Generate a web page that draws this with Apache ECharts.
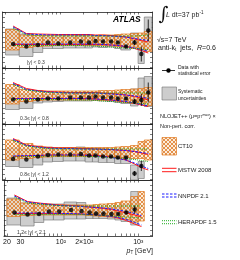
<!DOCTYPE html>
<html><head><meta charset="utf-8">
<script src="https://cdn.jsdelivr.net/npm/echarts@6/dist/echarts.min.js"></script>
<style>html,body{margin:0;padding:0;background:#fff}#c{width:240px;height:260px}</style>
</head><body><div id="c"></div>
<script>
// ---------- DATA ----------
const binEdges = [20,30,45,60,80,110,160,210,260,310,400,500,600,800,1000,1200,1500];
const ptCenters = [25,37,52,70,95,135,185,235,285,355,450,550,700,900,1100,1350];
const xTickValues = [20,30,100,200,1000];
const xTickLabels = ['20','30','10²','2×10²','10³'];
const xMinorTicks = [20,30,40,50,60,70,80,90,100,200,300,400,500,600,700,800,900,1000];
const panelLabels = ['|y| < 0.3','0.3≤ |y| < 0.8','0.8≤ |y| < 1.2','1.2≤ |y| < 2.1'];

// |y| < 0.3
const data1 = [0.96,0.91,0.94,0.99,0.97,0.99,1.01,0.99,1.02,1.01,1.01,0.99,0.91,0.99,0.76,1.23];
const stat1 = [0,0,0,0,0,0,0,0,0.01,0.01,0.01,0.02,0.03,0.05,0.15,0.22];
const sysLo1 = [0.74,0.71,0.79,0.87,0.87,0.88,0.88,0.88,0.90,0.89,0.90,0.87,0.84,0.91,0.57,0.84];
const sysHi1 = [1.26,1.16,1.10,1.09,1.09,1.10,1.12,1.10,1.12,1.12,1.12,1.12,1.11,1.18,1.04,1.50];
const ct10Lo1 = [0.84,0.89,0.91,0.92,0.93,0.93,0.93,0.93,0.93,0.93,0.92,0.91,0.90,0.88,0.85,0.81];
const ct10Hi1 = [1.25,1.14,1.13,1.13,1.13,1.13,1.13,1.13,1.13,1.14,1.14,1.15,1.16,1.17,1.18,1.21];
const mstwLo1 = [0.95,0.95,0.95,0.95,0.95,0.95,0.95,0.95,0.95,0.95,0.94,0.93,0.91,0.87,0.83,0.78];
const mstwHi1 = [1.32,1.17,1.16,1.155,1.15,1.15,1.15,1.15,1.14,1.14,1.13,1.12,1.10,1.06,1.03,1.00];
const nnLo1 = [0.96,0.96,0.96,0.96,0.96,0.96,0.96,0.96,0.96,0.95,0.94,0.93,0.91,0.88,0.85,0.81];
const nnHi1 = [1.30,1.16,1.15,1.14,1.14,1.14,1.14,1.14,1.13,1.13,1.12,1.11,1.10,1.07,1.05,1.03];
const heLo1 = [0.93,0.93,0.93,0.93,0.93,0.93,0.93,0.92,0.92,0.91,0.90,0.89,0.88,0.87,0.86,0.85];
const heHi1 = [1.28,1.14,1.13,1.12,1.12,1.12,1.12,1.12,1.12,1.12,1.12,1.12,1.12,1.12,1.13,1.14];

// 0.3 <= |y| < 0.8
const data2 = [0.97,0.93,0.97,0.99,0.99,1.01,1.01,1.01,1.03,1.01,1.01,0.99,0.99,0.93,0.96,1.11];
const stat2 = [0,0,0,0,0,0,0,0,0.01,0.01,0.01,0.02,0.03,0.05,0.12,0.20];
const sysLo2 = [0.77,0.79,0.90,0.92,0.93,0.94,0.94,0.94,0.95,0.94,0.93,0.91,0.89,0.84,0.90,0.83];
const sysHi2 = [1.18,1.08,1.06,1.07,1.07,1.08,1.09,1.10,1.10,1.10,1.10,1.10,1.12,1.18,1.40,1.43];
const ct10Lo2 = [0.88,0.93,0.95,0.96,0.96,0.96,0.96,0.96,0.96,0.95,0.95,0.94,0.92,0.90,0.88,0.85];
const ct10Hi2 = [1.27,1.17,1.15,1.14,1.14,1.14,1.14,1.14,1.14,1.15,1.15,1.16,1.17,1.18,1.19,1.21];
const mstwLo2 = [0.99,0.99,0.99,0.99,0.99,0.99,0.99,0.99,0.98,0.97,0.96,0.94,0.92,0.89,0.86,0.83];
const mstwHi2 = [1.31,1.19,1.15,1.13,1.12,1.11,1.11,1.11,1.11,1.10,1.09,1.08,1.06,1.03,1.00,0.96];
const nnLo2 = [0.99,0.99,0.99,0.99,0.99,0.99,0.99,0.98,0.98,0.97,0.96,0.95,0.93,0.90,0.87,0.84];
const nnHi2 = [1.29,1.17,1.14,1.12,1.11,1.10,1.10,1.10,1.10,1.09,1.08,1.07,1.06,1.04,1.02,0.99];
const heLo2 = [0.97,0.97,0.97,0.97,0.97,0.96,0.96,0.96,0.95,0.94,0.93,0.92,0.91,0.90,0.89,0.88];
const heHi2 = [1.27,1.16,1.13,1.11,1.10,1.10,1.10,1.10,1.10,1.10,1.10,1.10,1.10,1.10,1.10,1.10];

// 0.8 <= |y| < 1.2
const data3 = [0.90,0.89,0.95,0.98,0.99,0.99,1.00,0.97,0.97,0.95,0.95,0.93,0.93,0.61,0.76];
const stat3 = [0,0,0,0,0,0,0,0,0.01,0.01,0.01,0.02,0.03,0.05,0.10];
const sysLo3 = [0.75,0.73,0.78,0.84,0.85,0.86,0.86,0.84,0.84,0.83,0.83,0.81,0.81,0.48,0.51];
const sysHi3 = [1.12,1.10,1.10,1.12,1.13,1.13,1.14,1.10,1.10,1.08,1.08,1.07,1.08,0.78,0.85];
const ct10Lo3 = [0.88,0.91,0.93,0.94,0.95,0.95,0.95,0.95,0.95,0.95,0.94,0.94,0.93,0.91,0.91,0.88];
const ct10Hi3 = [1.28,1.21,1.16,1.14,1.13,1.13,1.13,1.13,1.13,1.13,1.13,1.14,1.15,1.17,1.25,1.28];
const mstwLo3 = [0.95,0.96,0.97,0.98,0.98,0.98,0.98,0.98,0.97,0.96,0.94,0.92,0.88,0.80,0.73,0.68];
const mstwHi3 = [1.31,1.18,1.15,1.13,1.12,1.12,1.11,1.11,1.10,1.10,1.09,1.08,1.07,1.05,1.02,0.99];
const nnLo3 = [0.96,0.97,0.97,0.98,0.98,0.98,0.98,0.97,0.96,0.95,0.93,0.91,0.88,0.82,0.76,0.71];
const nnHi3 = [1.29,1.17,1.14,1.12,1.11,1.11,1.10,1.10,1.10,1.09,1.09,1.08,1.07,1.05,1.03,1.01];
const heLo3 = [0.94,0.95,0.95,0.96,0.96,0.96,0.96,0.95,0.95,0.94,0.93,0.92,0.91,0.89,0.87,0.85];
const heHi3 = [1.27,1.16,1.13,1.11,1.10,1.10,1.10,1.10,1.10,1.10,1.10,1.10,1.10,1.10,1.10,1.10];

// 1.2 <= |y| < 2.1
const data4 = [0.95,0.91,0.92,0.97,0.97,1.00,0.98,0.95,0.93,0.93,0.92,0.92,0.95,1.01];
const stat4 = [0,0,0,0,0,0,0,0,0.01,0.01,0.01,0.02,0.03,0.08];
const sysLo4 = [0.70,0.68,0.75,0.80,0.80,0.82,0.82,0.83,0.83,0.83,0.82,0.80,0.77,0.70];
const sysHi4 = [1.24,1.14,1.10,1.12,1.12,1.16,1.15,1.08,1.06,1.06,1.05,1.06,1.12,1.37];
const ct10Lo4 = [0.87,0.89,0.90,0.90,0.90,0.90,0.90,0.89,0.88,0.87,0.86,0.84,0.81,0.76,0.78];
const ct10Hi4 = [1.22,1.14,1.12,1.11,1.10,1.10,1.10,1.10,1.11,1.12,1.13,1.15,1.18,1.27,1.37];
const mstwLo4 = [0.93,0.93,0.93,0.93,0.93,0.92,0.92,0.91,0.90,0.89,0.87,0.84,0.79,0.72,0.67];
const mstwHi4 = [1.30,1.17,1.14,1.12,1.10,1.09,1.08,1.06,1.05,1.03,1.01,0.98,0.94,0.90,0.86];
const nnLo4 = [0.94,0.94,0.94,0.94,0.93,0.93,0.92,0.91,0.90,0.89,0.87,0.85,0.81,0.75,0.70];
const nnHi4 = [1.28,1.16,1.13,1.11,1.09,1.08,1.07,1.06,1.05,1.04,1.02,1.00,0.97,0.93,0.89];
const heLo4 = [0.91,0.91,0.91,0.91,0.91,0.91,0.91,0.90,0.90,0.89,0.88,0.87,0.86,0.85,0.84];
const heHi4 = [1.26,1.14,1.12,1.10,1.09,1.08,1.08,1.08,1.08,1.08,1.08,1.08,1.08,1.08,1.08];

const panels = [
  {data:data1, stat:stat1, sysLo:sysLo1, sysHi:sysHi1, ctLo:ct10Lo1, ctHi:ct10Hi1, msLo:mstwLo1, msHi:mstwHi1, nnLo:nnLo1, nnHi:nnHi1, heLo:heLo1, heHi:heHi1},
  {data:data2, stat:stat2, sysLo:sysLo2, sysHi:sysHi2, ctLo:ct10Lo2, ctHi:ct10Hi2, msLo:mstwLo2, msHi:mstwHi2, nnLo:nnLo2, nnHi:nnHi2, heLo:heLo2, heHi:heHi2},
  {data:data3, stat:stat3, sysLo:sysLo3, sysHi:sysHi3, ctLo:ct10Lo3, ctHi:ct10Hi3, msLo:mstwLo3, msHi:mstwHi3, nnLo:nnLo3, nnHi:nnHi3, heLo:heLo3, heHi:heHi3},
  {data:data4, stat:stat4, sysLo:sysLo4, sysHi:sysHi4, ctLo:ct10Lo4, ctHi:ct10Hi4, msLo:mstwLo4, msHi:mstwHi4, nnLo:nnLo4, nnHi:nnHi4, heLo:heLo4, heHi:heHi4}
];
const yTicks = [0.5,0.6,0.7,0.8,0.9,1.0,1.1,1.2,1.3,1.4,1.5,1.6];

// ---------- STYLE / LAYOUT ----------
const F = 'Liberation Sans';
const xMin = 18.3, xMax = 1530, yMin = 0.48, yMax = 1.6;
const gridLeft = 2.5, gridW = 150, gridTop0 = 12, gridH = 56;
const RED = '#ff1a1a', BLUE = '#1a1aff', GREEN = '#1faa1f', ORANGE = '#e0781e';

const pc = document.createElement('canvas'); pc.width = 4; pc.height = 4;
const pctx = pc.getContext('2d');
pctx.fillStyle = 'rgba(250,222,190,0.55)'; pctx.fillRect(0,0,4,4);
pctx.fillStyle = 'rgba(222,122,40,0.8)';
[[0,0],[1,1],[2,2],[3,3],[3,0],[2,1],[1,2],[0,3]].forEach(p => pctx.fillRect(p[0], p[1], 1, 1));
const hatch = {image: pc, repeat: 'repeat'};

function labelFor(v){
  const k = xTickValues.findIndex(t => Math.abs(t - v) / t < 1e-6);
  return k >= 0 ? xTickLabels[k] : '';
}

const grids = [], xAxes = [], yAxes = [], series = [];
const axLine = {show:true, onZero:false, lineStyle:{color:'#222', width:0.8}};
panels.forEach((P, gi) => {
  grids.push({left:gridLeft, top:gridTop0 + gi*gridH, width:gridW, height:gridH, containLabel:false});
  ['bottom','top'].forEach(pos => {
    xAxes.push({gridIndex:gi, type:'log', logBase:10, min:xMin, max:xMax, position:pos,
      axisLine:axLine,
      axisTick:{show:true, inside:true, length:2.5, customValues:xMinorTicks, lineStyle:{color:'#222', width:0.6}},
      axisLabel:{show: gi === 3 && pos === 'bottom', customValues:xTickValues, formatter:labelFor,
        fontSize:7, color:'#111', margin:3, fontFamily:F},
      splitLine:{show:false}});
  });
  ['left','right'].forEach(pos => {
    yAxes.push({gridIndex:gi, type:'value', min:yMin, max:yMax, position:pos,
      axisLine:axLine,
      axisTick:{show:true, inside:true, length:2.5, customValues:yTicks, lineStyle:{color:'#222', width:0.6}},
      axisLabel:{show:false}, splitLine:{show:false}});
  });
  const xi = gi*2, yi = gi*2;
  const boxes = (lo, hi, style, z) => ({
    type:'custom', xAxisIndex:xi, yAxisIndex:yi, z, silent:true, clip:true,
    data: lo.map((l, i) => [binEdges[i], binEdges[i+1], l, hi[i]]),
    encode:{x:[0,1], y:[2,3]},
    renderItem:(params, api) => {
      const a = api.coord([api.value(0), api.value(3)]);
      const b = api.coord([api.value(1), api.value(2)]);
      return {type:'rect', shape:{x:a[0], y:a[1], width:b[0]-a[0], height:b[1]-a[1]}, style};
    }
  });
  series.push(boxes(P.sysLo, P.sysHi, {fill:'#cdcdcd', stroke:'#6e6e6e', lineWidth:0.6}, 1));
  series.push(boxes(P.ctLo, P.ctHi, {fill:hatch, stroke:ORANGE, lineWidth:0.7}, 2));
  const line = (arr, color, type, z) => ({
    type:'line', xAxisIndex:xi, yAxisIndex:yi, z, silent:true, symbol:'none', smooth:false,
    data: arr.map((v, i) => [ptCenters[i], v]),
    lineStyle:{color, width:1, type}
  });
  series.push(line(P.msHi, RED, 'solid', 3), line(P.msLo, RED, 'solid', 3));
  series.push(line(P.nnHi, BLUE, [2.5,1.5], 4), line(P.nnLo, BLUE, [2.5,1.5], 4));
  series.push(line(P.heHi, GREEN, [1,1], 5), line(P.heLo, GREEN, [1,1], 5));
  series.push({
    type:'custom', xAxisIndex:xi, yAxisIndex:yi, z:6, silent:true,
    data: P.data.map((v, i) => [ptCenters[i], v - P.stat[i], v + P.stat[i]]),
    encode:{x:0, y:[1,2]},
    renderItem:(params, api) => {
      const a = api.coord([api.value(0), api.value(1)]);
      const b = api.coord([api.value(0), api.value(2)]);
      return {type:'line', shape:{x1:a[0], y1:a[1], x2:b[0], y2:b[1]}, style:{stroke:'#000', lineWidth:0.8}};
    }
  });
  series.push({type:'scatter', xAxisIndex:xi, yAxisIndex:yi, z:7, silent:true, symbol:'circle', symbolSize:4.5,
    itemStyle:{color:'#000'}, data: P.data.map((v, i) => [ptCenters[i], v])});
});

// ---------- TEXT / LEGEND ----------
function T(text, x, y, size, extra){
  return {type:'text', z:100, silent:true, style:Object.assign({text, x, y, fill:'#222', fontSize:size, fontFamily:F,
    align:'left', verticalAlign:'middle', textAlign:'left', textVerticalAlign:'middle'}, extra || {})};
}
function L(x1, y1, x2, y2, stroke, w, dash){
  return {type:'line', z:100, silent:true, shape:{x1, y1, x2, y2}, style:{stroke, lineWidth:w, lineDash:dash || null}};
}
const graphic = [
  T('ATLAS', 113, 20, 8.5, {fontWeight:'bold', fontStyle:'italic', fill:'#000'}),
  T('∫', 158.5, 15, 19, {fontFamily:'DejaVu Serif', fill:'#111'}),
  T('{i|L} dt=37 pb', 166, 15.5, 7, {rich:{i:{fontStyle:'italic', fontSize:7, fontFamily:F}}}),
  T('-1', 199.5, 12.5, 4.5),
  T('√s=7 TeV', 157, 40, 7),
  T('anti-k{s|t}  jets,  {i|R}=0.6', 158, 48.5, 7, {rich:{s:{fontSize:4.5, verticalAlign:'bottom', padding:[3,0,0,0]}, i:{fontStyle:'italic', fontSize:7}}}),
  L(162, 70.5, 175, 70.5, '#000', 0.8),
  {type:'circle', z:100, silent:true, shape:{cx:168.5, cy:70.5, r:2.2}, style:{fill:'#000'}},
  T('Data with', 178, 67.3, 5),
  T('statistical error', 178, 74, 5),
  {type:'rect', z:100, silent:true, shape:{x:162, y:87, width:14.5, height:13}, style:{fill:'#cdcdcd', stroke:'#6e6e6e', lineWidth:0.6}},
  T('Systematic', 178, 91.5, 5),
  T('uncertainties', 178, 99, 5),
  T('NLOJET++ (μ=p{s|T}{u|max}) ×', 160, 116.5, 5.5, {rich:{s:{fontSize:3.5, verticalAlign:'bottom'}, u:{fontSize:3.5, verticalAlign:'top'}}}),
  T('Non-pert. corr.', 160, 126, 5.5),
  {type:'rect', z:100, silent:true, shape:{x:162, y:137.5, width:14.5, height:17.5}, style:{fill:hatch, stroke:ORANGE, lineWidth:0.7}},
  T('CT10', 178, 146.5, 6),
  L(162, 168.3, 176.5, 168.3, RED, 1), L(162, 171.7, 176.5, 171.7, RED, 1),
  T('MSTW 2008', 178, 170.5, 6),
  L(162, 194, 176.5, 194, BLUE, 1, [2.5,1.5]), L(162, 197, 176.5, 197, BLUE, 1, [2.5,1.5]),
  T('NNPDF 2.1', 178, 196, 6),
  L(162, 220.7, 176.5, 220.7, GREEN, 1, [1,1]), L(162, 223.7, 176.5, 223.7, GREEN, 1, [1,1]),
  T('HERAPDF 1.5', 178, 222.5, 6),
  T('{i|p}{s|T} [GeV]', 153, 251.5, 7, {align:'right', textAlign:'right', rich:{i:{fontStyle:'italic', fontSize:7}, s:{fontSize:4.5, verticalAlign:'bottom'}}})
];
const labelPos = [[27,62.5],[20,119],[20,175],[17,232.5]];
panelLabels.forEach((t, i) => graphic.push(T(t, labelPos[i][0], labelPos[i][1], 5, {fill:'#333'})));

const chart = echarts.init(document.getElementById('c'), null, {renderer:'canvas'});
chart.setOption({
  animation:false,
  backgroundColor:'#fff',
  textStyle:{fontFamily:F},
  grid:grids, xAxis:xAxes, yAxis:yAxes, series, graphic
});
</script></body></html>
